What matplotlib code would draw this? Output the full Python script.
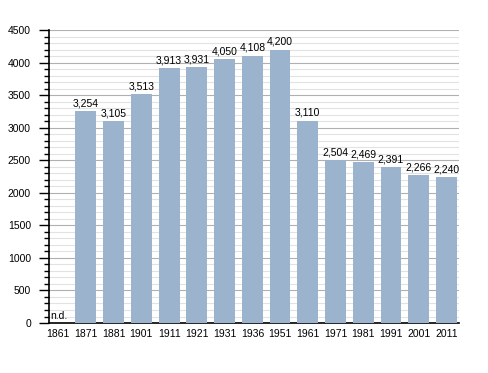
import numpy as np
import matplotlib.pyplot as plt
from matplotlib.ticker import MultipleLocator

plt.rcParams['font.family'] = ['Liberation Sans', 'DejaVu Sans']

years = ['1861', '1871', '1881', '1901', '1911', '1921', '1931', '1936',
         '1951', '1961', '1971', '1981', '1991', '2001', '2011']
# 1861 has no data (n.d.)
pop = [0, 3254, 3105, 3513, 3913, 3931, 4050, 4108,
       4200, 3110, 2504, 2469, 2391, 2266, 2240]

fig = plt.figure(figsize=(4.88, 3.73), dpi=100)
ax = fig.add_axes([0.1004, 0.134, 0.8402, 0.7856])

x = np.arange(len(years))
for i, v in enumerate(pop):
    if v == 0:
        ax.text(i - 0.27, 60, 'n.d.', fontsize=7.5, ha='left', va='baseline')
        continue
    ax.bar(i, v, width=0.75, color='#9bb3cc', zorder=3)
    ax.text(i, v + 72, f'{v:,}', fontsize=7.5, ha='center', va='baseline', zorder=4)

ax.set_xlim(-0.33, 14.45)
ax.set_ylim(0, 4500)
ax.set_xticks(x)
ax.set_xticklabels(years, fontsize=7.5)
ax.yaxis.set_major_locator(MultipleLocator(500))
ax.yaxis.set_minor_locator(MultipleLocator(100))
ax.tick_params(axis='y', labelsize=7.5, length=7, width=1, pad=6)
ax.tick_params(axis='y', which='minor', length=3.5, width=1)
ax.tick_params(axis='x', length=0, pad=4)

ax.grid(axis='y', which='major', color='#b0b0b0', linewidth=0.8, zorder=0)
ax.grid(axis='y', which='minor', color='#e2e2e2', linewidth=0.8, zorder=0)
for s in ['top', 'right']:
    ax.spines[s].set_visible(False)
ax.spines['left'].set_linewidth(1.2)
ax.spines['bottom'].set_linewidth(1.2)

fig.savefig('out.png', dpi=100)
